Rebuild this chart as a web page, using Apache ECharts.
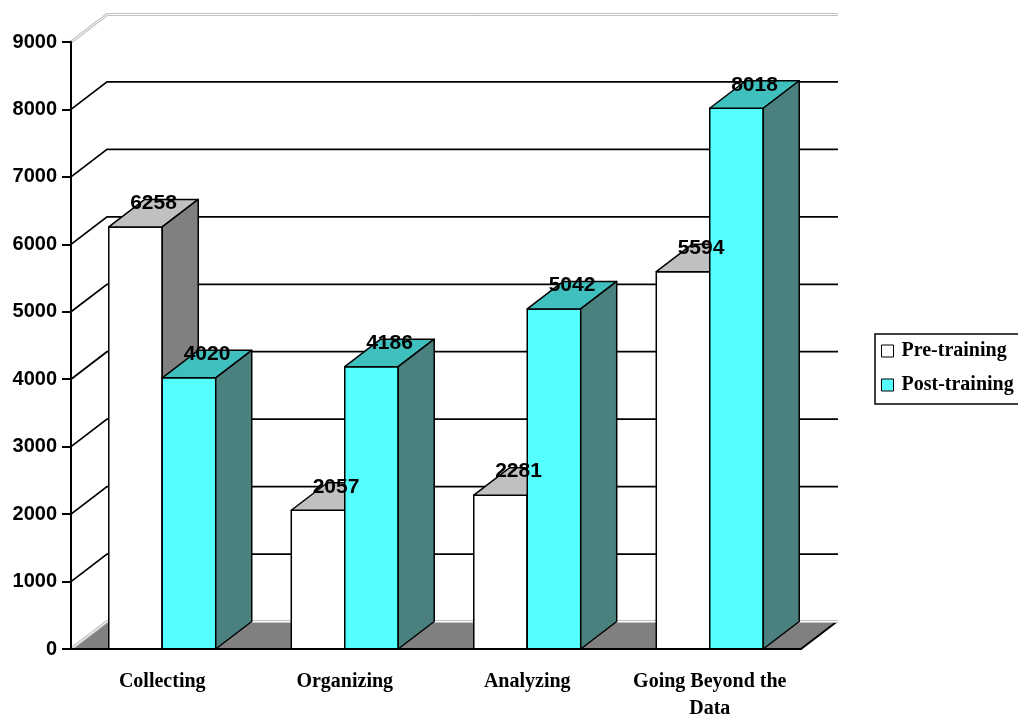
<!DOCTYPE html>
<html><head><meta charset="utf-8">
<script src="https://cdn.jsdelivr.net/npm/echarts@6/dist/echarts.min.js"></script>
<style>html,body{margin:0;padding:0;background:#fff}#c{width:1018px;height:716px}</style>
</head><body><div id="c"></div>
<script>
const categories = ['Collecting', 'Organizing', 'Analyzing', 'Going Beyond the\nData'];
const preTraining = [6258, 2057, 2281, 5594];
const postTraining = [4020, 4186, 5042, 8018];
const yTicks = [0, 1000, 2000, 3000, 4000, 5000, 6000, 7000, 8000, 9000];
const seriesNames = ['Pre-training', 'Post-training'];

const DX = 36, DY = -27.5;
const BAR_FRAC = 0.293;
const palette = {
  'Pre-training': { front: '#FFFFFF', top: '#C0C0C0', side: '#808080' },
  'Post-training': { front: '#55FFFF', top: '#40BFBF', side: '#4A807E' }
};

function barRender(sIdx, pal) {
  return function (params, api) {
    const ci = api.value(0), v = api.value(1);
    const base = api.coord([ci, 0]);
    const topP = api.coord([ci, v]);
    const band = api.size([1, 0])[0];
    const w = band * BAR_FRAC;
    const x0 = base[0] - w + sIdx * w, x1 = x0 + w;
    const yb = base[1], yt = topP[1];
    const st = { stroke: '#000', lineWidth: 1.5, lineJoin: 'round' };
    return { type: 'group', children: [
      { type: 'polygon', shape: { points: [[x0, yb], [x1, yb], [x1, yt], [x0, yt]] }, style: Object.assign({ fill: pal.front }, st) },
      { type: 'polygon', shape: { points: [[x0, yt], [x1, yt], [x1 + DX, yt + DY], [x0 + DX, yt + DY]] }, style: Object.assign({ fill: pal.top }, st) },
      { type: 'polygon', shape: { points: [[x1, yb], [x1 + DX, yb + DY], [x1 + DX, yt + DY], [x1, yt]] }, style: Object.assign({ fill: pal.side }, st) },
      { type: 'text', z2: 100, style: { text: String(v), x: (x0 + x1) / 2 + DX / 2, y: yt + DY + 4, align: 'center', verticalAlign: 'middle', font: 'bold 21px "Liberation Sans", Arial, sans-serif', fill: '#000' } }
    ] };
  };
}

function floorRender(params, api) {
  const cs = params.coordSys;
  const yb = api.coord([0, 0])[1];
  const x0 = cs.x, x1 = cs.x + cs.width;
  return { type: 'group', children: [
    { type: 'polygon', shape: { points: [[x0, yb], [x1, yb], [x1 + DX, yb + DY], [x0 + DX, yb + DY]] }, style: { fill: '#808080' } },
    { type: 'line', shape: { x1: x1, y1: yb, x2: x1 + DX, y2: yb + DY }, style: { stroke: '#000', lineWidth: 2 } }
  ] };
}

function wallRender(params, api) {
  const cs = params.coordSys;
  const v = api.value(1);
  const y = api.coord([0, v])[1];
  const x0 = cs.x, x1 = cs.x + cs.width;
  const edge = (v === yTicks[0] || v === yTicks[yTicks.length - 1]);
  const pts = [[x0, y], [x0 + DX, y + DY], [x1 + DX + 1, y + DY]];
  if (edge) {
    return { type: 'group', children: [
      { type: 'polyline', shape: { points: pts }, style: { stroke: '#C0C0C0', lineWidth: 3, fill: null } },
      { type: 'polyline', shape: { points: pts }, style: { stroke: '#FFFFFF', lineWidth: 1, fill: null } }
    ] };
  }
  return { type: 'polyline', shape: { points: pts }, style: { stroke: '#000', lineWidth: 1.7, fill: null } };
}

const chart = echarts.init(document.getElementById('c'), null, { renderer: 'canvas' });
const serifBold = { fontFamily: '"Liberation Serif", "Times New Roman", serif', fontWeight: 'bold', fontSize: 20, color: '#000' };
chart.setOption({
  animation: false,
  backgroundColor: '#fff',
  grid: { left: 71, right: 217, top: 42, bottom: 67, containLabel: false, outerBoundsMode: 'none' },
  legend: {
    orient: 'vertical', left: 875, top: 334, selectedMode: false,
    data: seriesNames.map(n => ({ name: n, icon: 'rect', itemStyle: { color: palette[n].front, borderColor: '#000', borderWidth: 1 } })),
    itemWidth: 12, itemHeight: 12, itemGap: 14,
    borderColor: '#000', borderWidth: 1.5, padding: [7, 12, 9, 6],
    textStyle: Object.assign({ lineHeight: 20, padding: [0, 0, 0, 3] }, serifBold)
  },
  xAxis: {
    type: 'category', data: categories, z: 5,
    axisLine: { lineStyle: { color: '#000', width: 2 } },
    axisTick: { length: 10, lineStyle: { color: '#000', width: 2 } },
    axisLabel: Object.assign({ margin: 19, interval: 0, lineHeight: 27 }, serifBold),
    splitLine: { show: false }
  },
  yAxis: {
    type: 'value', min: 0, max: 9000, interval: 1000, z: 5,
    axisLine: { show: true, lineStyle: { color: '#000', width: 2 } },
    axisTick: { show: true, length: 9, lineStyle: { color: '#000', width: 2 } },
    axisLabel: { margin: 14, formatter: v => String(v), fontFamily: '"Liberation Sans", Arial, sans-serif', fontWeight: 'bold', fontSize: 20, color: '#000' },
    splitLine: { show: false }
  },
  series: [
    { type: 'custom', name: 'floor', z: 1, silent: true, renderItem: floorRender, data: [[0, 0]], encode: { x: 0, y: 1 } },
    { type: 'custom', name: 'walls', z: 1, silent: true, renderItem: wallRender, data: yTicks.map(t => [0, t]), encode: { x: 0, y: 1 } },
    { type: 'custom', name: seriesNames[0], z: 2, renderItem: barRender(0, palette[seriesNames[0]]), itemStyle: { color: palette[seriesNames[0]].front, borderColor: '#000' }, data: preTraining.map((v, i) => [i, v]), encode: { x: 0, y: 1 } },
    { type: 'custom', name: seriesNames[1], z: 2, renderItem: barRender(1, palette[seriesNames[1]]), itemStyle: { color: palette[seriesNames[1]].front, borderColor: '#000' }, data: postTraining.map((v, i) => [i, v]), encode: { x: 0, y: 1 } }
  ]
});
</script>
</body></html>
